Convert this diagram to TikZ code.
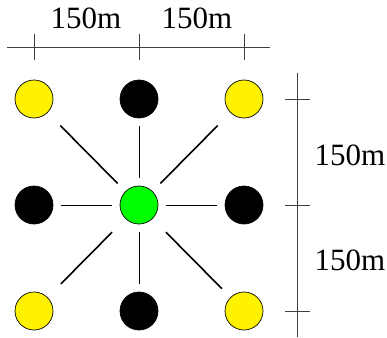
\documentclass[tikz,border=0pt]{standalone}
\usepackage{fontspec}
\setmainfont{Liberation Serif}
\usetikzlibrary{positioning}
\tikzset{%
  st/.style={draw, circle, minimum size=38pt, inner sep=0pt, line width=0.7pt},
  ye/.style={st, fill=yellow},
  bl/.style={st, fill=black},
  gr/.style={st, fill=green},
  eds/.style={line width=0.8pt},
  edd/.style={line width=1.6pt},
  sc/.style={line width=0.8pt, color=black!75},
  lb/.style={font=\fontsize{31}{36}\selectfont, inner sep=0pt, anchor=base}
}

\begin{document}
\begin{tikzpicture}[x=1pt, y=-1pt, on grid]
        \useasboundingbox (0,0) rectangle (387,337);
        \node[gr] (5) at (139,205)                        {};
        \node[ye] (1) [above left  = 106pt and 105pt of 5] {};
        \node[bl] (2) [above       = 106pt of 5]           {};
        \node[ye] (3) [above right = 106pt and 105pt of 5] {};
        \node[bl] (4) [left        = 105pt of 5]           {};
        \node[bl] (6) [right       = 105pt of 5]           {};
        \node[ye] (7) [below left  = 106pt and 105pt of 5] {};
        \node[bl] (8) [below       = 106pt of 5]           {};
        \node[ye] (9) [below right = 106pt and 105pt of 5] {};
        \path[eds, shorten <=8pt, shorten >=8pt]
        (5) edge (2)
        (5) edge (4)
        (5) edge (6)
        (5) edge (8);
        \path[edd]
        (5) edge[shorten <=11pt, shorten >=18pt] (1)
        (5) edge[shorten <=11pt, shorten >=18pt] (3)
        (5) edge[shorten <=19pt, shorten >=19pt] (7)
        (5) edge[shorten <=19pt, shorten >=12pt] (9);
        % scale on top
        \coordinate (h0) at (7,47);
        \coordinate (h1) at (270,47);
        \draw[sc] (h0) -- (h1);
        \foreach \n in {1,2,3} \draw[sc] (\n |- 0,34) -- (\n |- 0,60);
        \node[lb] (la) at (86,29)  {150m};
        \node[lb] (lb) at (197,29) {150m};
        % scale on the right
        \coordinate (v0) at (297,73);
        \coordinate (v1) at (297,337);
        \draw[sc] (v0) -- (v1);
        \foreach \n in {3,6,9} \draw[sc] (285,0 |- \n) -- (310,0 |- \n);
        \node[lb] (lc) at (350,165) {150m};
        \node[lb] (ld) at (350,270) {150m};
\end{tikzpicture}
\end{document}
